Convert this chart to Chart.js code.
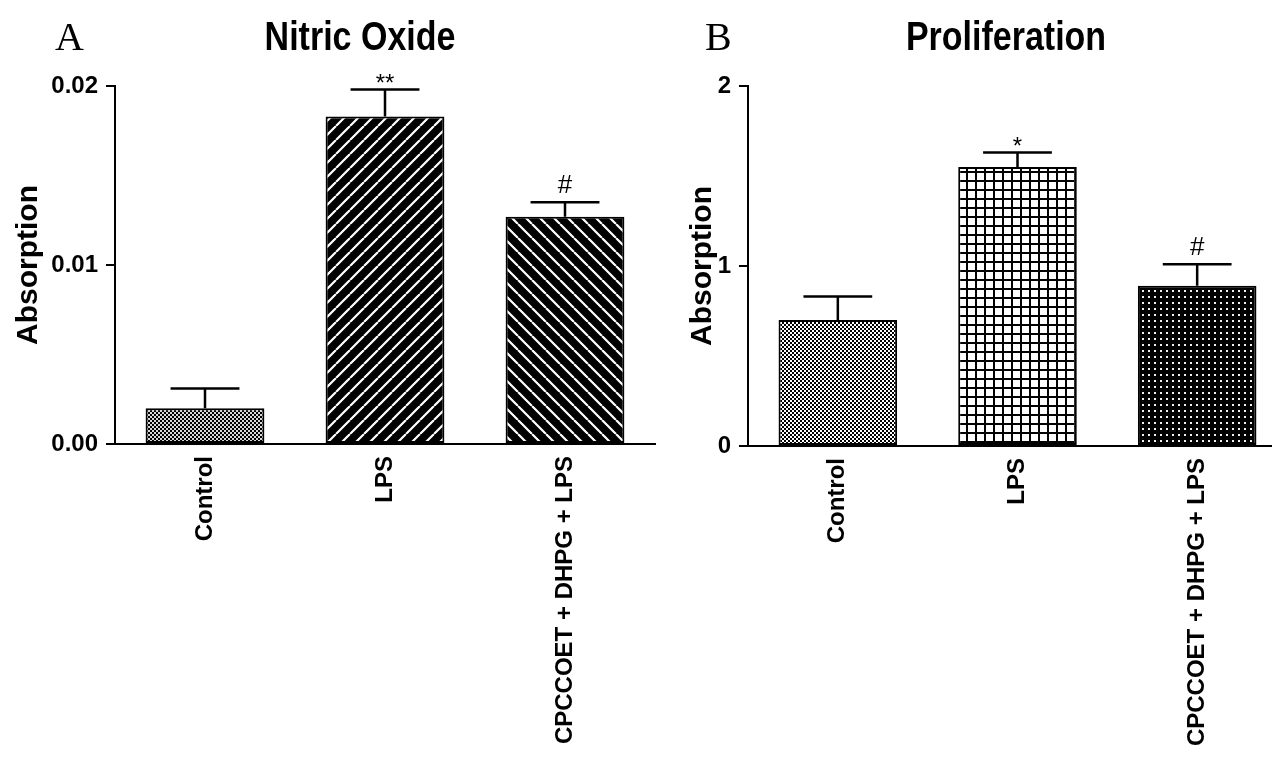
<!DOCTYPE html>
<html>
<head>
<meta charset="utf-8">
<script src="https://cdn.jsdelivr.net/npm/chart.js@4.4.1/dist/chart.umd.min.js"></script>
<style>
  html, body { margin: 0; padding: 0; background: #fff; overflow: hidden; width: 1272px; height: 772px; }
  canvas { position: absolute; top: 0; }
  #chartA { left: 0; }
  #chartB { left: 660px; }
</style>
</head>
<body>
<canvas id="chartA" width="680" height="772"></canvas>
<canvas id="chartB" width="640" height="772"></canvas>
<script>
  // data (mean + upper SEM)
  const groups = ['Control', 'LPS', 'CPCCOET + DHPG + LPS'];
  const nitricMean = [0.0020, 0.0183, 0.0127];
  const nitricSem = [0.0011, 0.0015, 0.0008];
  const nitricMarks = ['', '**', '#'];
  const nitricTicks = [0, 0.01, 0.02];
  const prolifMean = [0.70, 1.55, 0.89];
  const prolifSem = [0.13, 0.08, 0.12];
  const prolifMarks = ['', '*', '#'];
  const prolifTicks = [0, 1, 2];

  const sans = "'Liberation Sans', Arial, sans-serif";

  function makePattern(size, draw) {
    const c = document.createElement('canvas');
    c.width = size; c.height = size;
    const g = c.getContext('2d');
    draw(g, size);
    return g.createPattern(c, 'repeat');
  }

  const checkerDark = makePattern(4, g => {
    g.fillStyle = '#d8d8d8'; g.fillRect(0, 0, 4, 4);
    g.fillStyle = '#000'; g.fillRect(0, 0, 2, 2); g.fillRect(2, 2, 2, 2);
  });
  const checker = makePattern(4, g => {
    g.fillStyle = '#fff'; g.fillRect(0, 0, 4, 4);
    g.fillStyle = '#000'; g.fillRect(0, 0, 2, 2); g.fillRect(2, 2, 2, 2);
  });
  const slashUp = makePattern(14, (g, s) => {
    g.fillStyle = '#000'; g.fillRect(0, 0, s, s);
    g.strokeStyle = '#fff'; g.lineWidth = 2.2;
    g.beginPath();
    for (let k = -1; k <= 1; k++) { g.moveTo(k * s, s); g.lineTo(k * s + s, 0); }
    g.stroke();
  });
  const slashDown = makePattern(14, (g, s) => {
    g.fillStyle = '#000'; g.fillRect(0, 0, s, s);
    g.strokeStyle = '#fff'; g.lineWidth = 2.2;
    g.beginPath();
    for (let k = -1; k <= 1; k++) { g.moveTo(k * s, 0); g.lineTo(k * s + s, s); }
    g.stroke();
  });
  const grid = makePattern(9, g => {
    g.fillStyle = '#fff'; g.fillRect(0, 0, 9, 9);
    g.fillStyle = '#000'; g.fillRect(0, 0, 9, 2); g.fillRect(0, 0, 2, 9);
  });
  const dots = makePattern(6, g => {
    g.fillStyle = '#000'; g.fillRect(0, 0, 6, 6);
    g.fillStyle = '#f0f0f0'; g.fillRect(2, 2, 2, 2);
  });

  // error bars + significance marks, placed from the bar elements and y scale
  function errorPlugin(mean, sem, marks) {
    return {
      id: 'errorBars',
      afterDatasetsDraw(chart) {
        const ctx = chart.ctx;
        const y = chart.scales.y;
        ctx.save();
        ctx.strokeStyle = '#000';
        ctx.lineWidth = 2.5;
        ctx.fillStyle = '#000';
        ctx.textAlign = 'center';
        ctx.textBaseline = 'alphabetic';
        chart.getDatasetMeta(0).data.forEach((bar, i) => {
          const top = y.getPixelForValue(mean[i] + sem[i]);
          const half = bar.width * 0.29;
          ctx.beginPath();
          ctx.moveTo(bar.x, bar.y);
          ctx.lineTo(bar.x, top);
          ctx.moveTo(bar.x - half, top);
          ctx.lineTo(bar.x + half, top);
          ctx.stroke();
          if (marks[i] === '#') {
            ctx.font = '26px ' + sans;
            ctx.fillText('#', bar.x, top - 9);
          } else if (marks[i]) {
            ctx.font = '24px ' + sans;
            ctx.fillText(marks[i], bar.x, top + 1);
          }
        });
        ctx.restore();
      }
    };
  }

  // panel letter and a condensed bold heading
  function headingPlugin(letter, letterX, title, titleX) {
    return {
      id: 'heading',
      afterDraw(chart) {
        const ctx = chart.ctx;
        ctx.save();
        ctx.fillStyle = '#000';
        ctx.textBaseline = 'alphabetic';
        ctx.textAlign = 'left';
        ctx.font = "40px 'Liberation Serif', 'Times New Roman', serif";
        ctx.fillText(letter, letterX, 50);
        ctx.textAlign = 'center';
        ctx.font = 'bold 40px ' + sans;
        ctx.translate(titleX, 50);
        ctx.scale(0.85, 1);
        ctx.fillText(title, 0, 0);
        ctx.restore();
      }
    };
  }

  function makeChart(id, opts) {
    return new Chart(document.getElementById(id), {
      type: 'bar',
      data: {
        labels: groups,
        datasets: [{
          data: opts.mean,
          backgroundColor: opts.fills,
          borderColor: '#000',
          borderWidth: 2,
          borderSkipped: false,
          barPercentage: 0.66,
          categoryPercentage: 1.0
        }]
      },
      options: {
        responsive: false,
        animation: false,
        layout: { padding: { top: 86, left: 0, right: opts.padRight, bottom: 0 } },
        plugins: { legend: { display: false }, tooltip: { enabled: false } },
        scales: {
          x: {
            grid: { display: false },
            border: { display: true, color: '#000', width: 2 },
            ticks: {
              autoSkip: false, minRotation: 90, maxRotation: 90, padding: 4,
              color: '#000', font: { family: sans, size: 24, weight: 'bold' }
            },
            afterFit: s => { s.height = 772 - opts.bottom; }
          },
          y: {
            min: opts.ticks[0],
            max: opts.ticks[opts.ticks.length - 1],
            afterBuildTicks: s => { s.ticks = opts.ticks.map(v => ({ value: v })); },
            ticks: {
              padding: 8, color: '#000',
              font: { family: sans, size: 24, weight: 'bold' },
              callback: v => v.toFixed(opts.decimals)
            },
            grid: { drawOnChartArea: false, drawTicks: true, tickLength: 9, color: '#000', lineWidth: 2 },
            border: { display: true, color: '#000', width: 2 },
            title: {
              display: true, text: 'Absorption', color: '#000',
              font: { family: sans, size: 30, weight: 'bold' },
              padding: { top: opts.titlePad, bottom: 0 }
            },
            afterFit: s => { s.width = opts.axisWidth; }
          }
        }
      },
      plugins: [errorPlugin(opts.mean, opts.sem, opts.marks), headingPlugin(opts.letter, opts.letterX, opts.title, opts.titleX)]
    });
  }

  makeChart('chartA', {
    mean: nitricMean, sem: nitricSem, marks: nitricMarks, ticks: nitricTicks, decimals: 2,
    fills: [checkerDark, slashUp, slashDown],
    padRight: 25, bottom: 444, axisWidth: 115, titlePad: 11,
    letter: 'A', letterX: 55, title: 'Nitric Oxide', titleX: 360
  });

  makeChart('chartB', {
    mean: prolifMean, sem: prolifSem, marks: prolifMarks, ticks: prolifTicks, decimals: 0,
    fills: [checker, grid, dots],
    padRight: 13, bottom: 446, axisWidth: 88, titlePad: 25,
    letter: 'B', letterX: 45, title: 'Proliferation', titleX: 346
  });
</script>
</body>
</html>
